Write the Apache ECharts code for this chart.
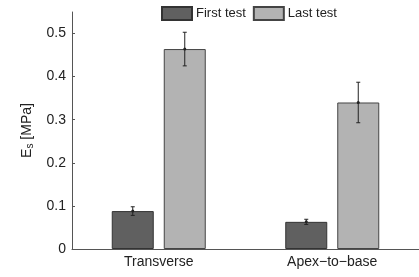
<!DOCTYPE html>
<html>
<head>
<meta charset="utf-8">
<script src="https://cdn.jsdelivr.net/npm/echarts@6/dist/echarts.min.js"></script>
<style>
  html, body { margin: 0; padding: 0; background: #fff; }
  #chart { width: 419px; height: 277px; }
</style>
</head>
<body>
<div id="chart"></div>
<script>
// data
const categories = ['Transverse', 'Apex\u2212to\u2212base'];
const firstTest = [0.088, 0.063];
const firstErr = [0.010, 0.006];
const lastTest = [0.464, 0.340];
const lastErr = [0.039, 0.047];

const BAR_W = 42, BAR_GAP = 10;
const half = (BAR_W + BAR_GAP) / 2;

function errData(vals, errs) {
	return vals.map((v, i) => [i, v - errs[i], v + errs[i], v]);
}

function errRender(offset) {
	return function (params, api) {
		const i = api.value(0);
		const lo = api.coord([i, api.value(1)]);
		const hi = api.coord([i, api.value(2)]);
		const mid = api.coord([i, api.value(3)]);
		const x = lo[0] + offset;
		const st = { stroke: '#222', lineWidth: 1 };
		return {
			type: 'group',
			children: [
				{ type: 'line', shape: { x1: x, y1: lo[1], x2: x, y2: hi[1] }, style: st },
				{ type: 'line', shape: { x1: x - 2, y1: lo[1], x2: x + 2, y2: lo[1] }, style: st },
				{ type: 'line', shape: { x1: x - 2, y1: hi[1], x2: x + 2, y2: hi[1] }, style: st },
				{ type: 'circle', shape: { cx: x, cy: mid[1], r: 1.5 }, style: { fill: '#222' } }
			]
		};
	};
}

const myChart = echarts.init(document.getElementById('chart'));

let option = {
	backgroundColor: '#fff',
	animation: false,
	textStyle: { fontFamily: 'Liberation Sans, Arial, sans-serif' },
	legend: {
		top: 1,
		left: 156,
		icon: 'rect',
		itemWidth: 30,
		itemHeight: 13,
		itemGap: 7,
		textStyle: { fontSize: 13, color: '#222', padding: [0, 0, 0, -1] },
		data: ['First test', 'Last test']
	},
	grid: { left: 72, right: -9, top: 12, bottom: 28 },
	xAxis: {
		type: 'category',
		data: categories,
		axisLine: { lineStyle: { color: '#555' } },
		axisTick: { inside: true, length: 3, alignWithLabel: true, lineStyle: { color: '#555' } },
		axisLabel: { color: '#222', fontSize: 14, margin: 6 }
	},
	yAxis: {
		type: 'value',
		min: 0,
		max: 0.55,
		interval: 0.1,
		name: 'E{s|s} [MPa]',
		nameLocation: 'middle',
		nameGap: 31,
		nameTextStyle: {
			color: '#222', fontSize: 14,
			rich: { s: { fontSize: 10, verticalAlign: 'bottom', padding: [7, 0, 0, 0] } }
		},
		splitLine: { show: false },
		axisLine: { show: true, lineStyle: { color: '#555' } },
		axisTick: { show: true, inside: true, length: 3, lineStyle: { color: '#555' } },
		axisLabel: {
			color: '#222', fontSize: 14, margin: 6, showMaxLabel: false,
			formatter: v => String(Math.round(v * 10) / 10)
		}
	},
	series: [
		{
			name: 'First test', type: 'bar', data: firstTest,
			barWidth: BAR_W, barGap: (BAR_GAP / BAR_W * 100) + '%',
			itemStyle: { color: '#606060', borderColor: '#333', borderWidth: 1 }
		},
		{
			name: 'Last test', type: 'bar', data: lastTest,
			barWidth: BAR_W,
			itemStyle: { color: '#b3b3b3', borderColor: '#444', borderWidth: 1 }
		},
		{
			type: 'custom', data: errData(firstTest, firstErr),
			renderItem: errRender(-half), encode: { x: 0, y: [1, 2] }, z: 10
		},
		{
			type: 'custom', data: errData(lastTest, lastErr),
			renderItem: errRender(half), encode: { x: 0, y: [1, 2] }, z: 10
		}
	]
};

myChart.setOption(option);
</script>
</body>
</html>
